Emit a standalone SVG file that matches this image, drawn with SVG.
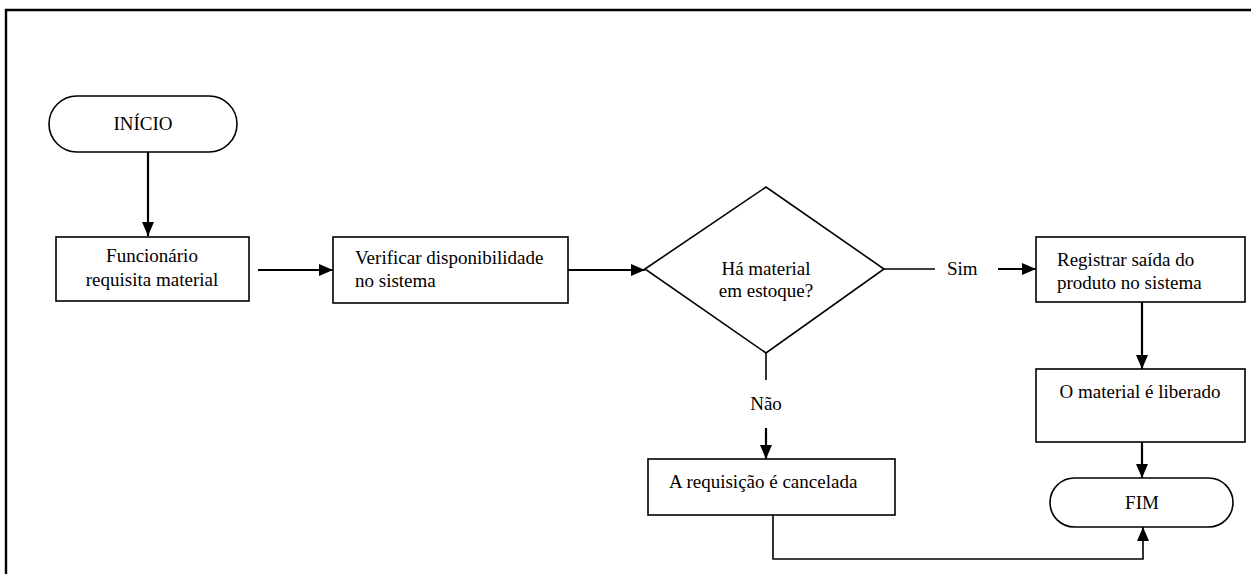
<svg xmlns="http://www.w3.org/2000/svg" width="1251" height="574" viewBox="0 0 1251 574">
<style>
.box{fill:#fff;stroke:#000;stroke-width:1.6}
.ln{fill:none;stroke:#000;stroke-width:2.2}
.t{font-family:"Liberation Serif","Times New Roman",serif;font-size:19px;fill:#000}
.c{text-anchor:middle}
</style>
<defs>
<marker id="ah" viewBox="0 0 14 12" refX="14" refY="6" markerWidth="14" markerHeight="12" markerUnits="userSpaceOnUse" orient="auto">
<path d="M0,0 L14,6 L0,12 Z" fill="#000"/>
</marker>
</defs>
<rect x="0" y="0" width="1251" height="574" fill="#fff"/>
<path d="M6,574 V10 H1251" fill="none" stroke="#000" stroke-width="2.4"/>
<g id="connectors">
<path class="ln" d="M148,152 V236" marker-end="url(#ah)"/>
<path class="ln" d="M258,270 H333" marker-end="url(#ah)"/>
<path class="ln" d="M568,270 H645" marker-end="url(#ah)"/>
<path class="ln" d="M884,269 H935" style="stroke-width:1.6"/>
<path class="ln" d="M998,269 H1036" marker-end="url(#ah)"/>
<path class="ln" d="M1142,302 V369" marker-end="url(#ah)"/>
<path class="ln" d="M1142,442 V478" marker-end="url(#ah)"/>
<path class="ln" d="M766,353 V380" style="stroke-width:1.6"/>
<path class="ln" d="M766,428 V459" marker-end="url(#ah)"/>
<path class="ln" d="M773,515 V559 H1143 V527" style="stroke-width:1.6" marker-end="url(#ah)"/>
<text class="t" x="947" y="275">Sim</text>
<text class="t c" x="766" y="410">Não</text>
</g>
<g id="inicio">
<rect class="box" x="49" y="96" width="188" height="56" rx="28"/>
<text class="t c" x="143" y="130">INÍCIO</text>
</g>
<g id="funcionario">
<rect class="box" x="56" y="237" width="193" height="64"/>
<text class="t c" x="152" y="262">Funcionário</text>
<text class="t c" x="152" y="286">requisita material</text>
</g>
<g id="verificar">
<rect class="box" x="333" y="237" width="235" height="66"/>
<text class="t" x="355" y="264">Verificar disponibilidade</text>
<text class="t" x="355" y="287">no sistema</text>
</g>
<g id="decisao">
<polygon class="box" points="645,269 766,187 884,269 766,353"/>
<text class="t c" x="766" y="275">Há material</text>
<text class="t c" x="766" y="297">em estoque?</text>
</g>
<g id="registrar">
<rect class="box" x="1036" y="237" width="209" height="65"/>
<text class="t" x="1057" y="266">Registrar saída do</text>
<text class="t" x="1057" y="289">produto no sistema</text>
</g>
<g id="liberado">
<rect class="box" x="1036" y="369" width="209" height="73"/>
<text class="t c" x="1140" y="398">O material é liberado</text>
</g>
<g id="cancelada">
<rect class="box" x="648" y="459" width="247" height="56"/>
<text class="t" x="669" y="488">A requisição é cancelada</text>
</g>
<g id="fim">
<rect class="box" x="1050" y="478" width="183" height="49" rx="24.5"/>
<text class="t c" x="1142" y="509">FIM</text>
</g>
</svg>
